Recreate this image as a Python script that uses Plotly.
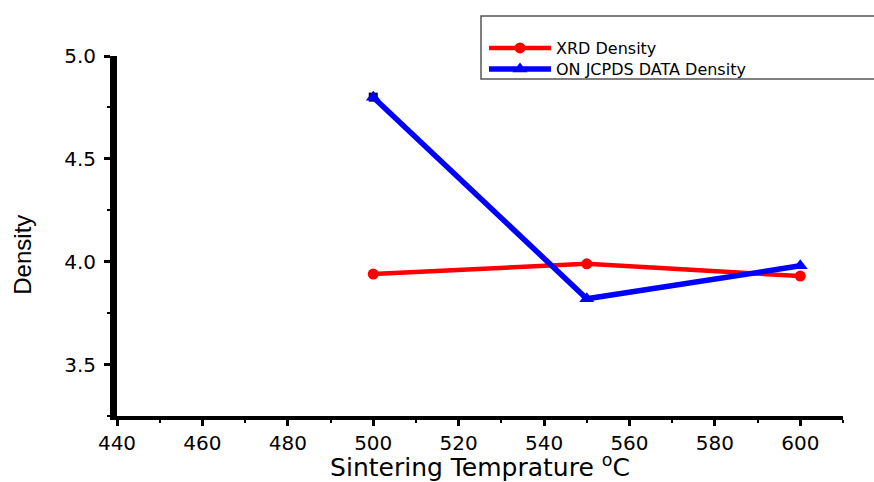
import plotly.graph_objects as go

# ---- data ----
temps = [500, 550, 600]
xrd_density = [3.94, 3.99, 3.93]
jcpds_density = [4.80, 3.82, 3.98]
extra_x = [500]
extra_y = [4.80]

W, H = 874, 482
L, R, T, B = 117, 31, 56, 65.5
pw = W - L - R
ph = H - T - B

fig = go.Figure()
fig.add_trace(go.Scatter(x=extra_x, y=extra_y, mode="markers",
                         marker=dict(symbol="square", size=9, color="black"),
                         showlegend=False, hoverinfo="skip"))
fig.add_trace(go.Scatter(x=temps, y=xrd_density, mode="lines+markers",
                         name="XRD Density", legend="legend",
                         line=dict(color="#FF0000", width=4.5),
                         marker=dict(symbol="circle", size=11, color="#FF0000")))
fig.add_trace(go.Scatter(x=temps, y=jcpds_density, mode="lines+markers",
                         name="ON JCPDS DATA Density", legend="legend2",
                         line=dict(color="#0000FF", width=5.5),
                         marker=dict(symbol="triangle-up", size=13, color="#0000FF")))

tickfont = dict(family="DejaVu Sans", size=20, color="black")
legfont = dict(family="DejaVu Sans", size=16, color="black")


def leg(ypx):
    return dict(
        xref="container", yref="container",
        x=484 / W, y=1 - ypx / H, xanchor="left", yanchor="middle",
        bgcolor="rgba(0,0,0,0)", borderwidth=0,
        font=legfont, itemwidth=62,
    )


fig.update_layout(
    width=W, height=H,
    margin=dict(l=L, r=R, t=T, b=B, autoexpand=False),
    paper_bgcolor="white", plot_bgcolor="white",
    showlegend=True,
    legend=leg(48),
    legend2=leg(69),
    shapes=[dict(type="rect", xref="paper", yref="paper",
                 x0=(481 - L) / pw, x1=(890 - L) / pw,
                 y0=(H - B - 79) / ph, y1=(H - B - 16) / ph,
                 line=dict(color="#555555", width=1.5), fillcolor="rgba(0,0,0,0)",
                 layer="above")],
    annotations=[dict(text="Density", textangle=-90, showarrow=False,
                      xref="paper", yref="paper",
                      x=(23 - L) / pw, y=(H - B - 255) / ph,
                      xanchor="center", yanchor="middle",
                      font=dict(family="Liberation Sans", size=24, color="black"))],
)

fig.update_xaxes(
    range=[440, 610], tick0=440, dtick=20,
    showline=True, linecolor="black", linewidth=4,
    ticks="outside", ticklen=6, tickwidth=3, tickcolor="black",
    minor=dict(dtick=10, ticks="outside", ticklen=3, tickwidth=2, tickcolor="black"),
    showgrid=False, zeroline=False,
    tickfont=tickfont, ticklabelstandoff=0,
    title=dict(text="Sintering Temprature <sup>o</sup>C",
               font=dict(family="DejaVu Sans", size=25, color="black"), standoff=17),
)
fig.update_yaxes(
    range=[3.25, 5.0], tick0=3.5, dtick=0.5, tickformat=".1f",
    showline=True, linecolor="black", linewidth=7,
    ticks="outside", ticklen=6, tickwidth=3, tickcolor="black",
    minor=dict(dtick=0.25, ticks="outside", ticklen=3, tickwidth=2, tickcolor="black"),
    showgrid=False, zeroline=False,
    tickfont=tickfont, ticklabelstandoff=4,
)

fig.write_html("out.html")
